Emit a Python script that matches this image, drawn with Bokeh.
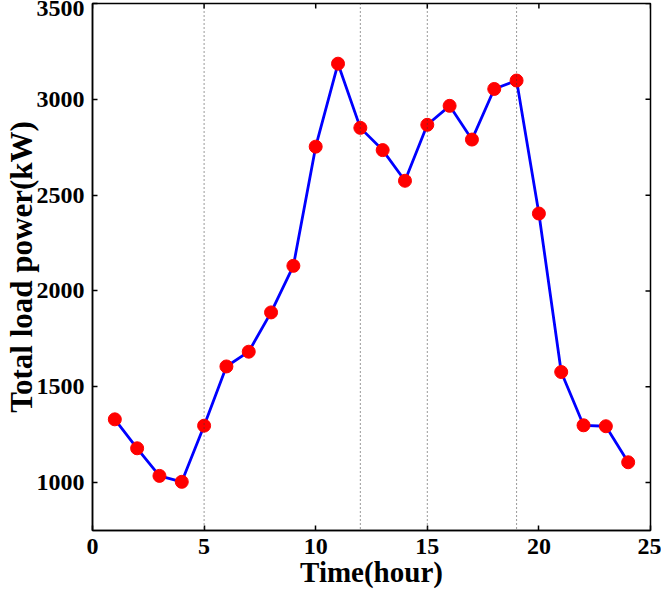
import math
from bokeh.plotting import figure
from bokeh.models import Range1d, FixedTicker, Span
from bokeh.embed import file_html
from bokeh.resources import INLINE

hours = list(range(1, 25))
load_kw = [1330, 1179, 1035, 1004, 1297, 1606, 1683, 1888, 2131, 2753, 3186, 2851,
           2735, 2575, 2867, 2966, 2790, 3054, 3098, 2404, 1577, 1299, 1294, 1106]
divider_hours = [5, 12, 15, 19]
x_ticks = [0, 5, 10, 15, 20, 25]
y_ticks = [1000, 1500, 2000, 2500, 3000, 3500]
x_min, x_max = 0, 25
y_min, y_max = 750, 3500

FONT = "Liberation Serif"

p = figure(width=661, height=590, output_backend="svg", toolbar_location=None,
           x_range=Range1d(x_min, x_max), y_range=Range1d(y_min, y_max),
           min_border_left=0, min_border_right=11, min_border_top=3, min_border_bottom=0)
p.grid.visible = False
p.outline_line_color = "black"
p.outline_line_width = 1.5
p.background_fill_color = "white"
p.border_fill_color = "white"

for ax in (p.xaxis[0], p.yaxis[0]):
    ax.major_tick_in = 5
    ax.major_tick_out = 0
    ax.minor_tick_in = 0
    ax.minor_tick_out = 0
    ax.axis_line_width = 1.5
    ax.major_tick_line_width = 1.5
    ax.major_label_text_font = FONT
    ax.major_label_text_font_style = "bold"
    ax.major_label_text_font_size = "24px"
    ax.major_label_text_color = "black"
    ax.axis_label_text_font = FONT
    ax.axis_label_text_font_style = "bold"
    ax.axis_label_text_color = "black"

p.xaxis[0].axis_label_text_font_size = "29px"
p.yaxis[0].axis_label_text_font_size = "31px"
p.xaxis[0].ticker = FixedTicker(ticks=x_ticks)
p.yaxis[0].ticker = FixedTicker(ticks=y_ticks)
p.xaxis[0].axis_label = "Time(hour)"
p.yaxis[0].axis_label = "Total load power(kW)"
p.xaxis[0].major_label_standoff = 8
p.yaxis[0].major_label_standoff = 8
p.xaxis[0].axis_label_standoff = -1
p.yaxis[0].axis_label_standoff = -5

# mirror ticks on the top and right edges (clipped to the frame, so only the inner half shows)
p.scatter(x_ticks, [y_max] * len(x_ticks), marker="dash", angle=math.pi / 2, size=10,
          line_color="black", line_width=1.5)
p.scatter([x_max] * len(y_ticks), y_ticks, marker="dash", size=10,
          line_color="black", line_width=1.5)

for h in divider_hours:
    p.add_layout(Span(location=h, dimension="height", line_color="#333333",
                      line_width=1, line_dash="1 3"))

p.line(hours, load_kw, line_color="blue", line_width=2.8)
p.scatter(hours, load_kw, size=13, fill_color="red", line_color="red", marker="circle")

open("out.html", "w").write(file_html(p, INLINE))
